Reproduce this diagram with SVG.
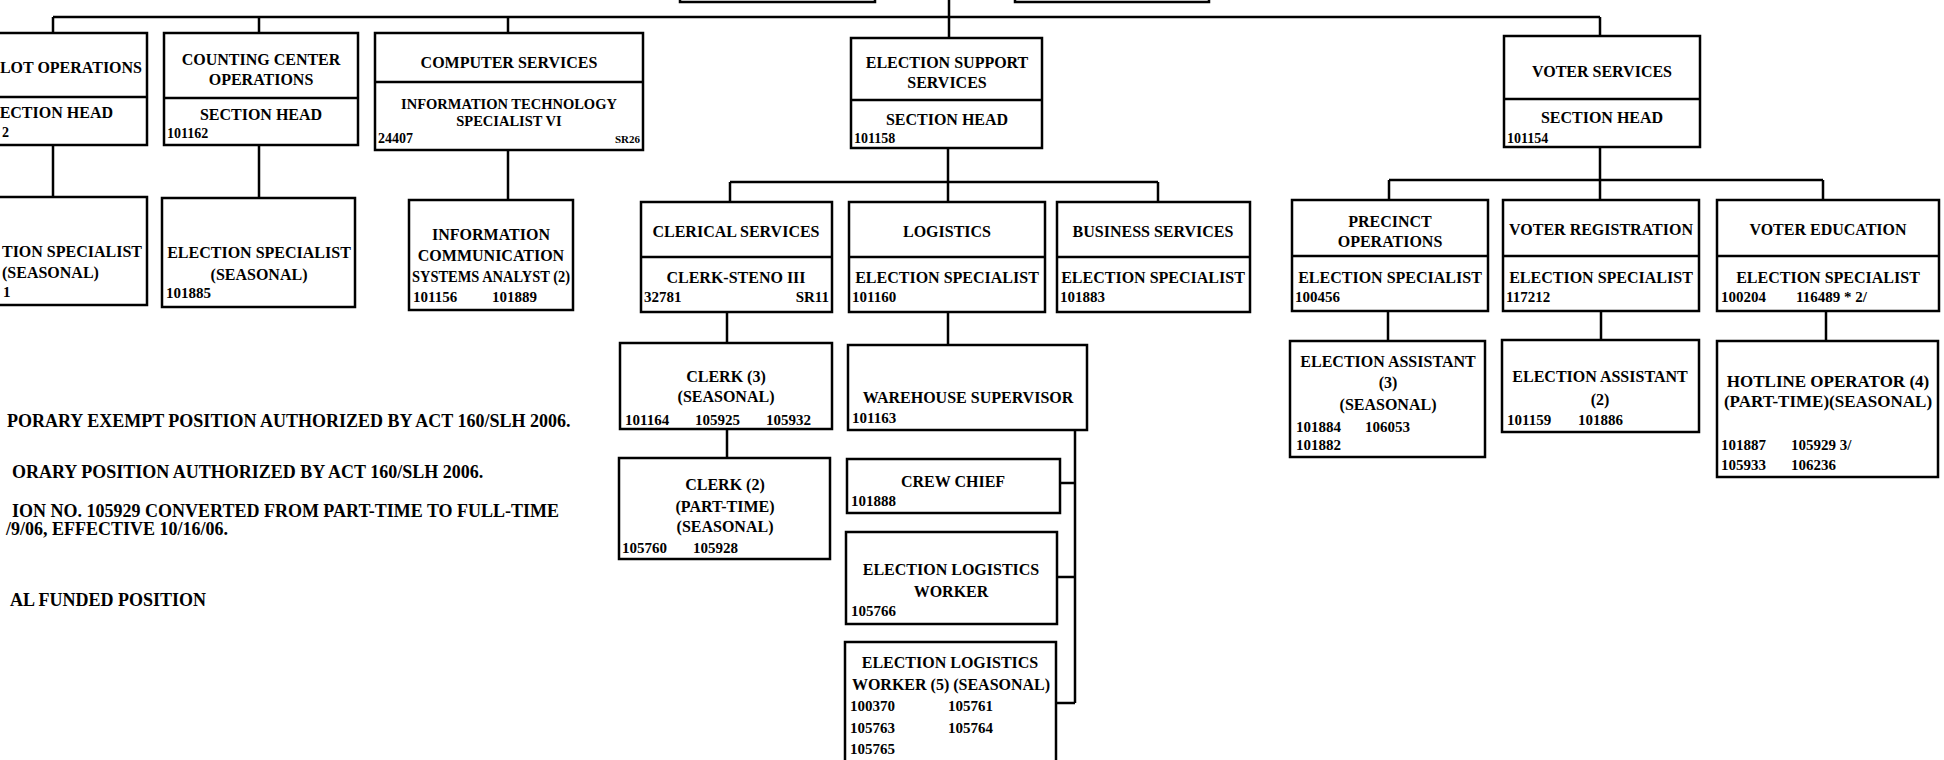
<svg xmlns="http://www.w3.org/2000/svg" width="1944" height="760" viewBox="0 0 1944 760">
<defs>
<style>
.b{fill:#fff;stroke:#000;stroke-width:2.5}
.d{stroke:#000;stroke-width:2.5}
.c{fill:none;stroke:#000;stroke-width:2.5}
text{font-family:"Liberation Serif","Times New Roman",serif;font-weight:bold;fill:#000}
.t{font-size:16px;text-anchor:middle}
.s{font-size:14.5px;text-anchor:middle}
.i{font-size:15px}
.h{font-size:14px}
.f{font-size:18px}
</style>
</defs>
<rect x="0" y="0" width="1944" height="760" fill="#fff"/>
<g id="connectors">
<path class="c" d="M53,17 H1600 M949,0 V38 M53,17 V33 M259,17 V33 M508,17 V33 M1600,17 V36"/>
<path class="c" d="M53,145 V197 M259,145 V198 M508,150 V200"/>
<path class="c" d="M948,148 V182 M730,182 H1158 M730,182 V202 M948,182 V202 M1158,182 V202"/>
<path class="c" d="M1600,147 V180 M1389,180 H1823 M1389,180 V200 M1600,180 V200 M1823,180 V200"/>
<path class="c" d="M727,312 V343 M727,429 V458 M948,312 V345"/>
<path class="c" d="M1075,430 V703 M1060,483 H1075 M1057,577 H1075 M1056,703 H1075"/>
<path class="c" d="M1388,311 V341 M1601,311 V340 M1826,311 V341"/>
</g>
<g id="top-left-box"><rect class="b" x="680" y="-20" width="195" height="22"/></g>
<g id="top-right-box"><rect class="b" x="1015" y="-20" width="194" height="22"/></g>
<g id="ballot-operations">
<rect class="b" x="-4" y="33" width="151" height="112"/><line class="d" x1="-4" y1="97" x2="147" y2="97"/>
<text class="t" x="142" y="73" style="text-anchor:end">LOT OPERATIONS</text>
<text class="t" x="113" y="118" style="text-anchor:end">ECTION HEAD</text>
<text class="h" x="2" y="137">2</text>
</g>
<g id="counting-center">
<rect class="b" x="164" y="33" width="194" height="112"/><line class="d" x1="164" y1="98" x2="358" y2="98"/>
<text class="t" x="261" y="65">COUNTING CENTER</text>
<text class="t" x="261" y="85">OPERATIONS</text>
<text class="t" x="261" y="120">SECTION HEAD</text>
<text class="h" x="167" y="138">101162</text>
</g>
<g id="computer-services">
<rect class="b" x="375" y="33" width="268" height="117"/><line class="d" x1="375" y1="82" x2="643" y2="82"/>
<text class="t" x="509" y="68">COMPUTER SERVICES</text>
<text class="s" x="509" y="109">INFORMATION TECHNOLOGY</text>
<text class="s" x="509" y="126">SPECIALIST VI</text>
<text class="h" x="378" y="143">24407</text>
<text x="640" y="143" style="font-size:11px;text-anchor:end">SR26</text>
</g>
<g id="election-support-services">
<rect class="b" x="851" y="38" width="191" height="110"/><line class="d" x1="851" y1="100" x2="1042" y2="100"/>
<text class="t" x="947" y="68">ELECTION SUPPORT</text>
<text class="t" x="947" y="88">SERVICES</text>
<text class="t" x="947" y="125">SECTION HEAD</text>
<text class="h" x="854" y="143">101158</text>
</g>
<g id="voter-services">
<rect class="b" x="1504" y="36" width="196" height="111"/><line class="d" x1="1504" y1="99" x2="1700" y2="99"/>
<text class="t" x="1602" y="77">VOTER SERVICES</text>
<text class="t" x="1602" y="123">SECTION HEAD</text>
<text class="h" x="1507" y="143">101154</text>
</g>
<g id="ballot-election-specialist">
<rect class="b" x="-4" y="197" width="151" height="108"/>
<text class="t" x="142" y="257" style="text-anchor:end">TION SPECIALIST</text>
<text class="t" x="2" y="278" style="text-anchor:start">(SEASONAL)</text>
<text class="i" x="3" y="297">1</text>
</g>
<g id="counting-election-specialist">
<rect class="b" x="162" y="198" width="193" height="109"/>
<text class="t" x="259" y="258">ELECTION SPECIALIST</text>
<text class="t" x="259" y="280">(SEASONAL)</text>
<text class="i" x="166" y="298">101885</text>
</g>
<g id="info-comm-analyst">
<rect class="b" x="409" y="200" width="164" height="110"/>
<text class="t" x="491" y="240">INFORMATION</text>
<text class="t" x="491" y="261">COMMUNICATION</text>
<text class="t" x="491" y="282" textLength="158" lengthAdjust="spacingAndGlyphs">SYSTEMS ANALYST (2)</text>
<text class="i" x="413" y="302">101156</text>
<text class="i" x="492" y="302">101889</text>
</g>
<g id="clerical-services">
<rect class="b" x="641" y="202" width="191" height="110"/><line class="d" x1="641" y1="257" x2="832" y2="257"/>
<text class="t" x="736" y="237">CLERICAL SERVICES</text>
<text class="t" x="736" y="283">CLERK-STENO III</text>
<text class="i" x="644" y="302">32781</text>
<text class="i" x="829" y="302" style="text-anchor:end">SR11</text>
</g>
<g id="logistics">
<rect class="b" x="849" y="202" width="196" height="110"/><line class="d" x1="849" y1="257" x2="1045" y2="257"/>
<text class="t" x="947" y="237">LOGISTICS</text>
<text class="t" x="947" y="283">ELECTION SPECIALIST</text>
<text class="i" x="852" y="302">101160</text>
</g>
<g id="business-services">
<rect class="b" x="1057" y="202" width="193" height="110"/><line class="d" x1="1057" y1="257" x2="1250" y2="257"/>
<text class="t" x="1153" y="237">BUSINESS SERVICES</text>
<text class="t" x="1153" y="283">ELECTION SPECIALIST</text>
<text class="i" x="1060" y="302">101883</text>
</g>
<g id="precinct-operations">
<rect class="b" x="1292" y="200" width="196" height="111"/><line class="d" x1="1292" y1="256" x2="1488" y2="256"/>
<text class="t" x="1390" y="227">PRECINCT</text>
<text class="t" x="1390" y="247">OPERATIONS</text>
<text class="t" x="1390" y="283">ELECTION SPECIALIST</text>
<text class="i" x="1295" y="302">100456</text>
</g>
<g id="voter-registration">
<rect class="b" x="1503" y="200" width="196" height="111"/><line class="d" x1="1503" y1="256" x2="1699" y2="256"/>
<text class="t" x="1601" y="235">VOTER REGISTRATION</text>
<text class="t" x="1601" y="283">ELECTION SPECIALIST</text>
<text class="i" x="1506" y="302">117212</text>
</g>
<g id="voter-education">
<rect class="b" x="1717" y="200" width="222" height="111"/><line class="d" x1="1717" y1="256" x2="1939" y2="256"/>
<text class="t" x="1828" y="235">VOTER EDUCATION</text>
<text class="t" x="1828" y="283">ELECTION SPECIALIST</text>
<text class="i" x="1721" y="302">100204</text>
<text class="i" x="1796" y="302">116489 * 2/</text>
</g>
<g id="clerk-3">
<rect class="b" x="620" y="343" width="212" height="86"/>
<text class="t" x="726" y="382">CLERK (3)</text>
<text class="t" x="726" y="402">(SEASONAL)</text>
<text class="i" x="625" y="425">101164</text>
<text class="i" x="695" y="425">105925</text>
<text class="i" x="766" y="425">105932</text>
</g>
<g id="clerk-2">
<rect class="b" x="619" y="458" width="211" height="101"/>
<text class="t" x="725" y="490">CLERK (2)</text>
<text class="t" x="725" y="512">(PART-TIME)</text>
<text class="t" x="725" y="532">(SEASONAL)</text>
<text class="i" x="622" y="553">105760</text>
<text class="i" x="693" y="553">105928</text>
</g>
<g id="warehouse-supervisor">
<rect class="b" x="848" y="345" width="239" height="85"/>
<text class="t" x="968" y="403">WAREHOUSE SUPERVISOR</text>
<text class="i" x="852" y="423">101163</text>
</g>
<g id="crew-chief">
<rect class="b" x="847" y="459" width="213" height="54"/>
<text class="t" x="953" y="487">CREW CHIEF</text>
<text class="i" x="851" y="506">101888</text>
</g>
<g id="election-logistics-worker">
<rect class="b" x="846" y="532" width="211" height="92"/>
<text class="t" x="951" y="575">ELECTION LOGISTICS</text>
<text class="t" x="951" y="597">WORKER</text>
<text class="i" x="851" y="616">105766</text>
</g>
<g id="election-logistics-worker-5">
<rect class="b" x="845" y="642" width="211" height="135"/>
<text class="t" x="950" y="668">ELECTION LOGISTICS</text>
<text class="t" x="951" y="690">WORKER (5) (SEASONAL)</text>
<text class="i" x="850" y="711">100370</text>
<text class="i" x="948" y="711">105761</text>
<text class="i" x="850" y="733">105763</text>
<text class="i" x="948" y="733">105764</text>
<text class="i" x="850" y="754">105765</text>
</g>
<g id="election-assistant-3">
<rect class="b" x="1290" y="341" width="195" height="116"/>
<text class="t" x="1388" y="367">ELECTION ASSISTANT</text>
<text class="t" x="1388" y="388">(3)</text>
<text class="t" x="1388" y="410">(SEASONAL)</text>
<text class="i" x="1296" y="432">101884</text>
<text class="i" x="1365" y="432">106053</text>
<text class="i" x="1296" y="450">101882</text>
</g>
<g id="election-assistant-2">
<rect class="b" x="1502" y="340" width="197" height="92"/>
<text class="t" x="1600" y="382">ELECTION ASSISTANT</text>
<text class="t" x="1600" y="405">(2)</text>
<text class="i" x="1507" y="425">101159</text>
<text class="i" x="1578" y="425">101886</text>
</g>
<g id="hotline-operator">
<rect class="b" x="1717" y="341" width="221" height="136"/>
<text class="t" x="1828" y="387" style="font-size:17px">HOTLINE OPERATOR (4)</text>
<text class="t" x="1828" y="407" style="font-size:17px">(PART-TIME)(SEASONAL)</text>
<text class="i" x="1721" y="450">101887</text>
<text class="i" x="1791" y="450">105929 3/</text>
<text class="i" x="1721" y="470">105933</text>
<text class="i" x="1791" y="470">106236</text>
</g>
<g id="footnotes">
<text class="f" x="7" y="427">PORARY EXEMPT POSITION AUTHORIZED BY ACT 160/SLH 2006.</text>
<text class="f" x="12" y="478">ORARY POSITION AUTHORIZED BY ACT 160/SLH 2006.</text>
<text class="f" x="12" y="517">ION NO. 105929 CONVERTED FROM PART-TIME TO FULL-TIME</text>
<text class="f" x="6" y="535">/9/06, EFFECTIVE 10/16/06.</text>
<text class="f" x="10" y="606">AL FUNDED POSITION</text>
</g>
</svg>
